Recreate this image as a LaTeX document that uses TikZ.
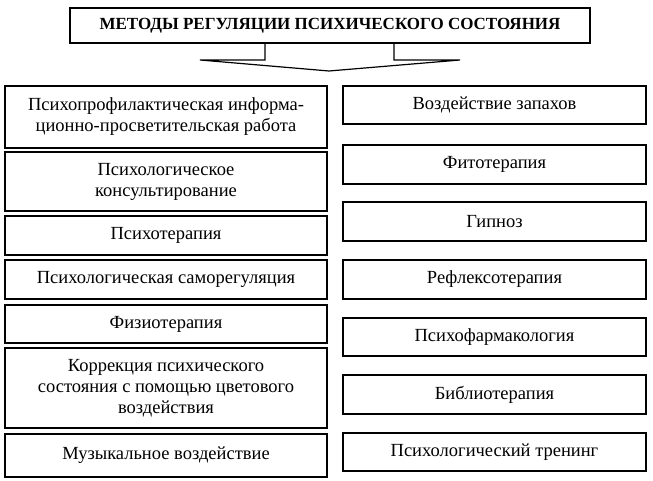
\documentclass[tikz,border=0pt]{standalone}
\usepackage{fontspec}
\setmainfont{Liberation Serif}
\begin{document}
\begin{tikzpicture}[x=1pt,y=-1pt,
  bx/.style={draw,line width=1.2pt,inner sep=0pt,align=center,font=\fontsize{18.5}{21}\selectfont},
  every node/.style={}]
\useasboundingbox (0,0) rectangle (653,481);
\node[bx,minimum width=520pt,minimum height=35pt,font=\bfseries\fontsize{17}{20}\selectfont] (t) at (330,25.5) {МЕТОДЫ РЕГУЛЯЦИИ ПСИХИЧЕСКОГО СОСТОЯНИЯ};
\draw[line width=1.2pt] (265,43) -- (265,60) -- (200,60) -- (329,71) -- (460,60) -- (394,60) -- (394,43);
\newcommand\lb[4]{\node[bx,minimum width=322pt,minimum height=#3 pt] (#1) at (166,#2) {#4};}
\newcommand\rb[4]{\node[bx,minimum width=303pt,minimum height=#3 pt] (#1) at (494.5,#2) {#4};}
\lb{l1}{117}{62}{Психопрофилактическая информа-\\ционно-просветительская работа}
\lb{l2}{181.5}{59}{Психологическое\\консультирование}
\lb{l3}{235.5}{39}{Психотерапия}
\lb{l4}{279.5}{39}{Психологическая саморегуляция}
\lb{l5}{324}{38}{Физиотерапия}
\lb{l6}{388}{80}{Коррекция психического\\состояния с помощью цветового\\воздействия}
\lb{l7}{455.5}{43}{Музыкальное воздействие}
\rb{r1}{105}{38}{Воздействие запахов}
\rb{r2}{164.5}{39}{Фитотерапия}
\rb{r3}{221.5}{39}{Гипноз}
\rb{r4}{279.5}{39}{Рефлексотерапия}
\rb{r5}{337}{38}{Психофармакология}
\rb{r6}{394.5}{39}{Библиотерапия}
\rb{r7}{452}{38}{Психологический тренинг}
\end{tikzpicture}
\end{document}
